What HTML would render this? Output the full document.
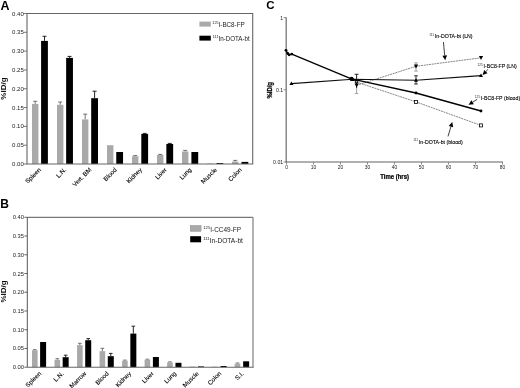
<!DOCTYPE html>
<html><head><meta charset="utf-8"><title>Figure</title>
<style>
html,body{margin:0;padding:0;background:#fff;}
body{width:520px;height:388px;overflow:hidden;font-family:"Liberation Sans",sans-serif;}
svg{display:block;}
svg text{font-family:"Liberation Sans",sans-serif;}
.pl{font-weight:bold;fill:#000;}
.bl{font-weight:bold;fill:#111;}
.tk{fill:#222;}
.xl{fill:#000;stroke:#000;stroke-width:0.1px;}
.bc{font-weight:bold;fill:#000;stroke:#000;stroke-width:0.25px;}
.cl{fill:#000;stroke:#000;stroke-width:0.12px;}
.cs{stroke:none;fill:#333;}
</style></head><body>
<svg width="520" height="388" viewBox="0 0 520 388">
<defs><filter id="bl" x="0" y="0" width="520" height="388" filterUnits="userSpaceOnUse"><feGaussianBlur stdDeviation="0.35"/></filter></defs>
<rect width="520" height="388" fill="#fff"/>
<g filter="url(#bl)">
<g id="A">
<text x="0.5" y="9.6" class="pl" font-size="12.5">A</text>
<path d="M35.20 103.90V101.30M33.20 101.30H37.20" stroke="#505050" stroke-width="0.8" fill="none"/>
<rect x="32.00" y="103.90" width="6.4" height="60.10" fill="#a9a9a9"/>
<path d="M44.50 40.90V36.30M42.50 36.30H46.50" stroke="#111" stroke-width="0.9" fill="none"/>
<rect x="41.10" y="40.90" width="6.8" height="123.10" fill="#000"/>
<path d="M60.20 104.80V102.00M58.20 102.00H62.20" stroke="#505050" stroke-width="0.8" fill="none"/>
<rect x="57.00" y="104.80" width="6.4" height="59.20" fill="#a9a9a9"/>
<path d="M69.55 57.90V56.40M67.55 56.40H71.55" stroke="#111" stroke-width="0.9" fill="none"/>
<rect x="66.15" y="57.90" width="6.8" height="106.10" fill="#000"/>
<path d="M85.20 119.40V114.10M83.20 114.10H87.20" stroke="#505050" stroke-width="0.8" fill="none"/>
<rect x="82.00" y="119.40" width="6.4" height="44.60" fill="#a9a9a9"/>
<path d="M94.60 98.20V91.20M92.60 91.20H96.60" stroke="#111" stroke-width="0.9" fill="none"/>
<rect x="91.20" y="98.20" width="6.8" height="65.80" fill="#000"/>
<rect x="107.00" y="145.20" width="6.4" height="18.80" fill="#a9a9a9"/>
<rect x="116.25" y="152.00" width="6.8" height="12.00" fill="#000"/>
<path d="M135.20 156.20V155.60M133.20 155.60H137.20" stroke="#505050" stroke-width="0.8" fill="none"/>
<rect x="132.00" y="156.20" width="6.4" height="7.80" fill="#a9a9a9"/>
<path d="M144.70 133.90V133.40M142.70 133.40H146.70" stroke="#111" stroke-width="0.9" fill="none"/>
<rect x="141.30" y="133.90" width="6.8" height="30.10" fill="#000"/>
<path d="M160.20 155.00V154.40M158.20 154.40H162.20" stroke="#505050" stroke-width="0.8" fill="none"/>
<rect x="157.00" y="155.00" width="6.4" height="9.00" fill="#a9a9a9"/>
<path d="M169.75 144.00V143.40M167.75 143.40H171.75" stroke="#111" stroke-width="0.9" fill="none"/>
<rect x="166.35" y="144.00" width="6.8" height="20.00" fill="#000"/>
<path d="M185.20 151.50V150.40M183.20 150.40H187.20" stroke="#505050" stroke-width="0.8" fill="none"/>
<rect x="182.00" y="151.50" width="6.4" height="12.50" fill="#a9a9a9"/>
<rect x="191.40" y="152.00" width="6.8" height="12.00" fill="#000"/>
<rect x="207.00" y="163.60" width="6.4" height="0.40" fill="#a9a9a9"/>
<rect x="216.45" y="163.00" width="6.8" height="1.00" fill="#000"/>
<path d="M235.20 161.60V160.40M233.20 160.40H237.20" stroke="#505050" stroke-width="0.8" fill="none"/>
<rect x="232.00" y="161.60" width="6.4" height="2.40" fill="#a9a9a9"/>
<rect x="241.50" y="161.90" width="6.8" height="2.10" fill="#000"/>
<path d="M27.0 13.5H252.7V164.0H27.0Z" fill="none" stroke="#666" stroke-width="1.1"/>
<path d="M23.6 164.00H27.0" stroke="#666" stroke-width="0.9"/>
<text x="23.8" y="166.10" text-anchor="end" class="tk" font-size="6">0.00</text>
<path d="M23.6 145.19H27.0" stroke="#666" stroke-width="0.9"/>
<text x="23.8" y="147.29" text-anchor="end" class="tk" font-size="6">0.05</text>
<path d="M23.6 126.38H27.0" stroke="#666" stroke-width="0.9"/>
<text x="23.8" y="128.47" text-anchor="end" class="tk" font-size="6">0.10</text>
<path d="M23.6 107.56H27.0" stroke="#666" stroke-width="0.9"/>
<text x="23.8" y="109.66" text-anchor="end" class="tk" font-size="6">0.15</text>
<path d="M23.6 88.75H27.0" stroke="#666" stroke-width="0.9"/>
<text x="23.8" y="90.85" text-anchor="end" class="tk" font-size="6">0.20</text>
<path d="M23.6 69.94H27.0" stroke="#666" stroke-width="0.9"/>
<text x="23.8" y="72.04" text-anchor="end" class="tk" font-size="6">0.25</text>
<path d="M23.6 51.12H27.0" stroke="#666" stroke-width="0.9"/>
<text x="23.8" y="53.23" text-anchor="end" class="tk" font-size="6">0.30</text>
<path d="M23.6 32.31H27.0" stroke="#666" stroke-width="0.9"/>
<text x="23.8" y="34.41" text-anchor="end" class="tk" font-size="6">0.35</text>
<path d="M23.6 13.50H27.0" stroke="#666" stroke-width="0.9"/>
<text x="23.8" y="15.60" text-anchor="end" class="tk" font-size="6">0.40</text>
<text transform="translate(5.9 88.6) rotate(-90)" text-anchor="middle" class="bl" font-size="8">%ID/g</text>
<text transform="translate(41.5 170.2) rotate(-45)" text-anchor="end" class="xl" font-size="6.2">Spleen</text>
<text transform="translate(66.7 170.2) rotate(-45)" text-anchor="end" class="xl" font-size="6.2">L.N.</text>
<text transform="translate(91.8 170.2) rotate(-45)" text-anchor="end" class="xl" font-size="6.2">Vert. BM</text>
<text transform="translate(117.2 170.2) rotate(-45)" text-anchor="end" class="xl" font-size="6.2">Blood</text>
<text transform="translate(142.4 170.2) rotate(-45)" text-anchor="end" class="xl" font-size="6.2">Kidney</text>
<text transform="translate(167.2 170.2) rotate(-45)" text-anchor="end" class="xl" font-size="6.2">Liver</text>
<text transform="translate(191.9 170.2) rotate(-45)" text-anchor="end" class="xl" font-size="6.2">Lung</text>
<text transform="translate(217.4 170.2) rotate(-45)" text-anchor="end" class="xl" font-size="6.2">Muscle</text>
<text transform="translate(242.2 170.2) rotate(-45)" text-anchor="end" class="xl" font-size="6.2">Colon</text>
<rect x="199.4" y="21.6" width="11.4" height="5" fill="#a9a9a9"/>
<rect x="199.4" y="35.7" width="11.4" height="4.9" fill="#000"/>
<g transform="translate(212.3 26.8) scale(0.91 1)"><text x="0" y="0" class="tk" font-size="6.9"><tspan font-size="4.14" dy="-2.62">125</tspan><tspan dy="2.62">I-BC8-FP</tspan></text></g>
<g transform="translate(212.8 40.6) scale(0.9 1)"><text x="0" y="0" class="tk" font-size="6.9"><tspan font-size="4.14" dy="-2.62">111</tspan><tspan dy="2.62">In-DOTA-bt</tspan></text></g>
</g>
<g id="B">
<text x="0.3" y="207.6" class="pl" font-size="12">B</text>
<path d="M34.80 350.20V349.70M33.00 349.70H36.60" stroke="#505050" stroke-width="0.8" fill="none"/>
<rect x="32.00" y="350.20" width="5.6" height="17.00" fill="#a9a9a9"/>
<rect x="40.10" y="342.00" width="6.0" height="25.20" fill="#000"/>
<path d="M57.32 359.80V358.70M55.52 358.70H59.12" stroke="#505050" stroke-width="0.8" fill="none"/>
<rect x="54.52" y="359.80" width="5.6" height="7.40" fill="#a9a9a9"/>
<path d="M65.66 357.20V355.20M63.86 355.20H67.46" stroke="#111" stroke-width="0.9" fill="none"/>
<rect x="62.66" y="357.20" width="6.0" height="10.00" fill="#000"/>
<path d="M79.84 345.10V343.30M78.04 343.30H81.64" stroke="#505050" stroke-width="0.8" fill="none"/>
<rect x="77.04" y="345.10" width="5.6" height="22.10" fill="#a9a9a9"/>
<path d="M88.22 340.20V338.60M86.42 338.60H90.02" stroke="#111" stroke-width="0.9" fill="none"/>
<rect x="85.22" y="340.20" width="6.0" height="27.00" fill="#000"/>
<path d="M102.36 351.10V348.30M100.56 348.30H104.16" stroke="#505050" stroke-width="0.8" fill="none"/>
<rect x="99.56" y="351.10" width="5.6" height="16.10" fill="#a9a9a9"/>
<path d="M110.78 356.20V353.40M108.98 353.40H112.58" stroke="#111" stroke-width="0.9" fill="none"/>
<rect x="107.78" y="356.20" width="6.0" height="11.00" fill="#000"/>
<path d="M124.88 360.70V360.10M123.08 360.10H126.68" stroke="#505050" stroke-width="0.8" fill="none"/>
<rect x="122.08" y="360.70" width="5.6" height="6.50" fill="#a9a9a9"/>
<path d="M133.34 333.60V326.20M131.54 326.20H135.14" stroke="#111" stroke-width="0.9" fill="none"/>
<rect x="130.34" y="333.60" width="6.0" height="33.60" fill="#000"/>
<path d="M147.40 359.60V359.20M145.60 359.20H149.20" stroke="#505050" stroke-width="0.8" fill="none"/>
<rect x="144.60" y="359.60" width="5.6" height="7.60" fill="#a9a9a9"/>
<rect x="152.90" y="357.00" width="6.0" height="10.20" fill="#000"/>
<path d="M169.92 362.30V361.90M168.12 361.90H171.72" stroke="#505050" stroke-width="0.8" fill="none"/>
<rect x="167.12" y="362.30" width="5.6" height="4.90" fill="#a9a9a9"/>
<rect x="175.46" y="362.80" width="6.0" height="4.40" fill="#000"/>
<rect x="189.64" y="366.60" width="5.6" height="0.60" fill="#a9a9a9"/>
<rect x="198.02" y="366.40" width="6.0" height="0.80" fill="#000"/>
<rect x="212.16" y="366.70" width="5.6" height="0.50" fill="#a9a9a9"/>
<rect x="220.58" y="366.00" width="6.0" height="1.20" fill="#000"/>
<path d="M237.48 363.60V363.00M235.68 363.00H239.28" stroke="#505050" stroke-width="0.8" fill="none"/>
<rect x="234.68" y="363.60" width="5.6" height="3.60" fill="#a9a9a9"/>
<rect x="243.14" y="361.30" width="6.0" height="5.90" fill="#000"/>
<path d="M27.3 367.2V217.3H253.0" fill="none" stroke="#444" stroke-width="0.9"/>
<path d="M253.0 217.3V367.2" fill="none" stroke="#999" stroke-width="1.5"/>
<path d="M27.3 367.2H253.7" fill="none" stroke="#666" stroke-width="1.1"/>
<path d="M24.3 367.20H27.3" stroke="#444" stroke-width="0.8"/>
<text x="24" y="369.20" text-anchor="end" class="tk" font-size="5.8">0.00</text>
<path d="M24.3 348.46H27.3" stroke="#444" stroke-width="0.8"/>
<text x="24" y="350.46" text-anchor="end" class="tk" font-size="5.8">0.05</text>
<path d="M24.3 329.73H27.3" stroke="#444" stroke-width="0.8"/>
<text x="24" y="331.73" text-anchor="end" class="tk" font-size="5.8">0.10</text>
<path d="M24.3 310.99H27.3" stroke="#444" stroke-width="0.8"/>
<text x="24" y="312.99" text-anchor="end" class="tk" font-size="5.8">0.15</text>
<path d="M24.3 292.25H27.3" stroke="#444" stroke-width="0.8"/>
<text x="24" y="294.25" text-anchor="end" class="tk" font-size="5.8">0.20</text>
<path d="M24.3 273.51H27.3" stroke="#444" stroke-width="0.8"/>
<text x="24" y="275.51" text-anchor="end" class="tk" font-size="5.8">0.25</text>
<path d="M24.3 254.78H27.3" stroke="#444" stroke-width="0.8"/>
<text x="24" y="256.77" text-anchor="end" class="tk" font-size="5.8">0.30</text>
<path d="M24.3 236.04H27.3" stroke="#444" stroke-width="0.8"/>
<text x="24" y="238.04" text-anchor="end" class="tk" font-size="5.8">0.35</text>
<path d="M24.3 217.30H27.3" stroke="#444" stroke-width="0.8"/>
<text x="24" y="219.30" text-anchor="end" class="tk" font-size="5.8">0.40</text>
<text transform="translate(6.1 291.4) rotate(-90)" text-anchor="middle" class="bl" font-size="8">%ID/g</text>
<text transform="translate(41.6 374.0) rotate(-45)" text-anchor="end" class="xl" font-size="6.2">Spleen</text>
<text transform="translate(64.1 374.0) rotate(-45)" text-anchor="end" class="xl" font-size="6.2">L.N.</text>
<text transform="translate(86.6 374.0) rotate(-45)" text-anchor="end" class="xl" font-size="6.2">Marrow</text>
<text transform="translate(109.1 374.0) rotate(-45)" text-anchor="end" class="xl" font-size="6.2">Blood</text>
<text transform="translate(131.6 374.0) rotate(-45)" text-anchor="end" class="xl" font-size="6.2">Kidney</text>
<text transform="translate(154.1 374.0) rotate(-45)" text-anchor="end" class="xl" font-size="6.2">Liver</text>
<text transform="translate(176.6 374.0) rotate(-45)" text-anchor="end" class="xl" font-size="6.2">Lung</text>
<text transform="translate(199.1 374.0) rotate(-45)" text-anchor="end" class="xl" font-size="6.2">Muscle</text>
<text transform="translate(221.6 374.0) rotate(-45)" text-anchor="end" class="xl" font-size="6.2">Colon</text>
<text transform="translate(244.1 374.0) rotate(-45)" text-anchor="end" class="xl" font-size="6.2">S.I.</text>
<rect x="190.2" y="225.4" width="10.9" height="6" fill="#a9a9a9" stroke="#888" stroke-width="0.4"/>
<rect x="190.2" y="236.2" width="10.9" height="6.1" fill="#000"/>
<g transform="translate(203.2 231.7) scale(0.98 1)"><text x="0" y="0" class="tk" font-size="6.6"><tspan font-size="4.30" dy="-3.00">125</tspan><tspan dy="3.00">I-CC49-FP</tspan></text></g>
<g transform="translate(203.2 242.9) scale(1.0 1)"><text x="0" y="0" class="tk" font-size="6.6"><tspan font-size="4.30" dy="-3.00">111</tspan><tspan dy="3.00">In-DOTA-bt</tspan></text></g>
</g>
<g id="C">
<text x="266.3" y="8.9" class="pl" font-size="11.5">C</text>
<path d="M286.2 17.6V162.0" fill="none" stroke="#808080" stroke-width="1.4"/>
<path d="M285.5 162.0H503.0" fill="none" stroke="#5a5a5a" stroke-width="0.95"/>
<path d="M283.6 17.6H286.4" stroke="#808080" stroke-width="0.9"/>
<text x="283.2" y="19.50" text-anchor="end" class="tk" font-size="5.2">1</text>
<path d="M283.6 89.8H286.4" stroke="#808080" stroke-width="0.9"/>
<text x="283.2" y="91.70" text-anchor="end" class="tk" font-size="5.2">0.1</text>
<path d="M283.6 162.0H286.4" stroke="#808080" stroke-width="0.9"/>
<text x="283.2" y="163.90" text-anchor="end" class="tk" font-size="5.2">0.01</text>
<path d="M286.5 162.0V164.6" stroke="#808080" stroke-width="0.9"/>
<text x="286.5" y="169.0" text-anchor="middle" class="tk" font-size="4.9">0</text>
<path d="M313.5 162.0V164.6" stroke="#808080" stroke-width="0.9"/>
<text x="313.5" y="169.0" text-anchor="middle" class="tk" font-size="4.9">10</text>
<path d="M340.5 162.0V164.6" stroke="#808080" stroke-width="0.9"/>
<text x="340.5" y="169.0" text-anchor="middle" class="tk" font-size="4.9">20</text>
<path d="M367.5 162.0V164.6" stroke="#808080" stroke-width="0.9"/>
<text x="367.5" y="169.0" text-anchor="middle" class="tk" font-size="4.9">30</text>
<path d="M394.5 162.0V164.6" stroke="#808080" stroke-width="0.9"/>
<text x="394.5" y="169.0" text-anchor="middle" class="tk" font-size="4.9">40</text>
<path d="M421.5 162.0V164.6" stroke="#808080" stroke-width="0.9"/>
<text x="421.5" y="169.0" text-anchor="middle" class="tk" font-size="4.9">50</text>
<path d="M448.5 162.0V164.6" stroke="#808080" stroke-width="0.9"/>
<text x="448.5" y="169.0" text-anchor="middle" class="tk" font-size="4.9">60</text>
<path d="M475.5 162.0V164.6" stroke="#808080" stroke-width="0.9"/>
<text x="475.5" y="169.0" text-anchor="middle" class="tk" font-size="4.9">70</text>
<path d="M502.5 162.0V164.6" stroke="#808080" stroke-width="0.9"/>
<text x="502.5" y="169.0" text-anchor="middle" class="tk" font-size="4.9">80</text>
<g transform="translate(394.6 178.6) scale(0.88 1)"><text text-anchor="middle" class="bc" font-size="6.8">Time (hrs)</text></g>
<text transform="translate(271.6 90.3) rotate(-90) scale(0.88 1)" text-anchor="middle" class="bc" font-size="6.8">%ID/g</text>
<path d="M356.6 85.3L416.0 66.3L481.0 57.8" fill="none" stroke="#707070" stroke-width="0.85" stroke-dasharray="2 0.7"/>
<path d="M356.6 82.1L416.0 101.9L481.0 125.4" fill="none" stroke="#707070" stroke-width="0.85" stroke-dasharray="2 0.7"/>
<path d="M356.6 88V93.5M354.9 93.5H358.3" stroke="#999" stroke-width="0.9" fill="none"/>
<path d="M356.6 74.3V88M354.7 74.3H358.5" stroke="#111" stroke-width="0.9" fill="none"/>
<path d="M416 62.9V71.1M414.2 62.9H417.8M414.2 71.1H417.8" stroke="#999" stroke-width="0.9" fill="none"/>
<path d="M416 75.8V84M414.2 75.8H417.8M414.2 84H417.8" stroke="#111" stroke-width="0.9" fill="none"/>
<path d="M291.4 83.6L352.6 79.2L416.0 80.2L481.0 75.6" fill="none" stroke="#111" stroke-width="1.1"/>
<path d="M286.0 50.3L287.7 53.5L289.1 54.8L291.8 54.1L351.4 78.8L416.0 93.0L481.0 111.0" fill="none" stroke="#000" stroke-width="1.3" stroke-linejoin="round"/>
<circle cx="286.0" cy="50.3" r="1.4" fill="#000"/>
<circle cx="287.7" cy="53.5" r="1.4" fill="#000"/>
<circle cx="289.1" cy="54.8" r="1.4" fill="#000"/>
<circle cx="291.8" cy="54.1" r="1.4" fill="#000"/>
<circle cx="351.4" cy="78.8" r="2.0" fill="#000"/>
<circle cx="416.0" cy="93.0" r="1.4" fill="#000"/>
<circle cx="481.0" cy="111.0" r="1.4" fill="#000"/>
<path d="M289.4 85.1L293.4 85.1L291.4 81.6Z" fill="#000"/>
<path d="M350.1 81.075L355.1 81.075L352.6 76.7Z" fill="#000"/>
<path d="M414.0 81.7L418.0 81.7L416.0 78.2Z" fill="#000"/>
<path d="M479.0 77.1L483.0 77.1L481.0 73.6Z" fill="#000"/>
<rect x="355.3" y="80.5" width="2.5" height="2.4" fill="#999" stroke="#000" stroke-width="0.8"/>
<rect x="414.5" y="100.4" width="3" height="3" fill="#fff" stroke="#000" stroke-width="0.8"/>
<rect x="479.5" y="123.9" width="3" height="3" fill="#fff" stroke="#000" stroke-width="0.8"/>
<path d="M354.5 83.6L358.70000000000005 83.6L356.6 87.5Z" fill="#000"/>
<path d="M413.9 64.6L418.1 64.6L416.0 68.5Z" fill="#000"/>
<path d="M478.9 56.099999999999994L483.1 56.099999999999994L481.0 60.0Z" fill="#000"/>
<path d="M443.40 42.00L444.73 55.42" stroke="#111" stroke-width="0.8"/>
<path d="M445.20 60.20L442.44 55.65L447.02 55.20Z" fill="#000"/>
<path d="M487.80 69.60L485.89 71.51" stroke="#111" stroke-width="0.8"/>
<path d="M482.50 74.90L484.27 69.88L487.52 73.13Z" fill="#000"/>
<path d="M477.20 99.30L472.64 102.21" stroke="#111" stroke-width="0.8"/>
<path d="M468.60 104.80L471.40 100.28L473.88 104.15Z" fill="#000"/>
<path d="M448.00 136.40L450.92 126.70" stroke="#111" stroke-width="0.8"/>
<path d="M452.30 122.10L453.12 127.36L448.72 126.03Z" fill="#000"/>
<g transform="translate(429.2 38.3) scale(0.9 1)"><text x="0" y="0" class="cl" font-size="5.8"><tspan font-size="3.6" dy="-2.6" class="cs">111</tspan><tspan dy="2.6" dx="0.8">In-DOTA-bt (LN)</tspan></text></g>
<g transform="translate(477.4 68.3) scale(0.9 1)"><text x="0" y="0" class="cl" font-size="5.8"><tspan font-size="3.6" dy="-2.6" class="cs">125</tspan><tspan dy="2.6" dx="0.8">I-BC8-FP (LN)</tspan></text></g>
<g transform="translate(474.8 100.4) scale(0.9 1)"><text x="0" y="0" class="cl" font-size="5.8"><tspan font-size="3.6" dy="-2.6" class="cs">125</tspan><tspan dy="2.6" dx="0.8">I-BC8-FP (blood)</tspan></text></g>
<g transform="translate(413.2 143.7) scale(0.9 1)"><text x="0" y="0" class="cl" font-size="5.8"><tspan font-size="3.6" dy="-2.6" class="cs">111</tspan><tspan dy="2.6" dx="0.8">In-DOTA-bt (blood)</tspan></text></g>
</g>
</g>
</svg>
</body></html>
